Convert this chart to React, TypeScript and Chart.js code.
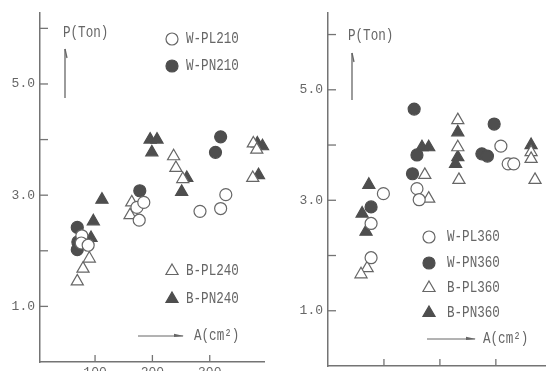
import React, { useEffect, useRef } from 'react';
import { Chart, registerables } from 'chart.js';
Chart.register(...registerables);

// ---- axis ticks ----
const xTickValues = [100, 200, 300];
const yTickValues = [1, 2, 3, 4, 5, 6];
const yLabelValues = [1, 3, 5];

// ---- left panel (210 / 240) ----
const wpl210X = [77, 76, 88, 173, 185, 177, 283, 319, 328];
const wpl210Y = [2.27, 2.14, 2.1, 2.78, 2.87, 2.55, 2.71, 2.76, 3.01];
const wpn210X = [69, 70, 69, 178, 310, 319];
const wpn210Y = [2.42, 2.16, 2.02, 3.08, 3.77, 4.05];
const bpl240X = [69, 79, 90, 161, 164, 237, 241, 253, 375, 376, 382];
const bpl240Y = [1.45, 1.68, 1.86, 2.64, 2.87, 3.7, 3.49, 3.29, 3.31, 3.93, 3.82];
const bpn240X = [93, 97, 112, 196, 208, 199, 251, 260, 385, 383, 392];
const bpn240Y = [2.23, 2.53, 2.92, 4.0, 4.0, 3.77, 3.06, 3.31, 3.36, 3.93, 3.88];

// ---- right panel (360) ----
const wpl360X = [99, 77, 77, 159, 163, 309, 322, 332];
const wpl360Y = [3.12, 2.58, 1.96, 3.21, 3.01, 3.98, 3.66, 3.66];
const wpn360X = [77, 154, 159, 151, 297, 275, 285];
const wpn360Y = [2.88, 4.65, 3.82, 3.48, 4.38, 3.84, 3.8];
const bpl360X = [70, 59, 173, 180, 232, 232, 234, 363, 363, 370];
const bpl360Y = [1.77, 1.66, 3.46, 3.03, 4.45, 3.96, 3.37, 3.87, 3.75, 3.37];
const bpn360X = [73, 61, 68, 168, 180, 232, 232, 228, 363];
const bpn360Y = [3.28, 2.76, 2.43, 3.96, 3.96, 4.23, 3.78, 3.66, 4.0];

const INK = '#666666';
const FILL = '#4e4e4e';
const AXIS = '#747474';
const FONT = '"Liberation Mono", "DejaVu Sans Mono", monospace';

function series(label: string, xs: number[], ys: number[], filled: boolean, triangle: boolean) {
  return {
    label,
    data: xs.map((x, i) => ({ x, y: ys[i] })),
    pointStyle: triangle ? 'triangle' : 'circle',
    pointRadius: triangle ? 7 : 6,
    pointHoverRadius: triangle ? 7 : 6,
    pointBackgroundColor: filled ? FILL : '#ffffff',
    pointBorderColor: filled ? FILL : INK,
    pointBorderWidth: 1.2,
    showLine: false,
    clip: false,
  };
}

function stretchedText(ctx: CanvasRenderingContext2D, s: string, x: number, y: number) {
  ctx.save();
  ctx.translate(x, y);
  ctx.scale(1, 1.3);
  ctx.font = '12.6px ' + FONT;
  ctx.fillStyle = INK;
  ctx.textAlign = 'left';
  ctx.textBaseline = 'middle';
  ctx.fillText(s, 0, 0);
  ctx.restore();
}

function drawMarker(ctx: CanvasRenderingContext2D, ds: any, x: number, y: number) {
  const r = ds.pointRadius;
  ctx.save();
  ctx.beginPath();
  if (ds.pointStyle === 'triangle') {
    ctx.moveTo(x, y - r);
    ctx.lineTo(x + r * 0.866, y + r * 0.5);
    ctx.lineTo(x - r * 0.866, y + r * 0.5);
    ctx.closePath();
  } else {
    ctx.arc(x, y, r, 0, Math.PI * 2);
  }
  ctx.fillStyle = ds.pointBackgroundColor;
  ctx.strokeStyle = ds.pointBorderColor;
  ctx.lineWidth = ds.pointBorderWidth;
  ctx.fill();
  ctx.stroke();
  ctx.restore();
}

const panelPlugin = {
  id: 'panel',
  afterDraw(chart: any, _args: any, opts: any) {
    const ctx: CanvasRenderingContext2D = chart.ctx;
    const { left, bottom } = chart.chartArea;
    const xs = chart.scales.x;
    const ys = chart.scales.y;
    ctx.save();
    ctx.strokeStyle = AXIS;
    ctx.lineWidth = 1.3;
    const line = (x1: number, y1: number, x2: number, y2: number) => {
      ctx.beginPath();
      ctx.moveTo(x1, y1);
      ctx.lineTo(x2, y2);
      ctx.stroke();
    };
    // inward tick marks
    xTickValues.forEach((v) => {
      const px = xs.getPixelForValue(v);
      line(px, bottom, px, bottom - 7);
    });
    yTickValues.forEach((v) => {
      const py = ys.getPixelForValue(v);
      line(left, py, left + 8, py);
    });
    // P(Ton) label and vertical arrow
    stretchedText(ctx, 'P(Ton)', opts.p.x, opts.p.y);
    ctx.strokeStyle = INK;
    line(opts.p.ax, opts.p.a1, opts.p.ax, opts.p.a2);
    line(opts.p.ax, opts.p.a1, opts.p.ax + 2, opts.p.a1 + 9);
    // legend items
    opts.legend.forEach((item: any) => {
      const ds = chart.data.datasets[item.ds];
      drawMarker(ctx, ds, item.x, item.y);
      stretchedText(ctx, ds.label, item.tx, item.y);
    });
    // A(cm²) arrow
    const a = opts.a;
    ctx.strokeStyle = INK;
    ctx.lineWidth = 1;
    line(a.x1, a.y, a.x2, a.y);
    ctx.fillStyle = INK;
    ctx.beginPath();
    ctx.moveTo(a.x2 + 1, a.y);
    ctx.lineTo(a.x2 - 9, a.y - 2.2);
    ctx.lineTo(a.x2 - 9, a.y + 1);
    ctx.closePath();
    ctx.fill();
    stretchedText(ctx, 'A(cm²)', a.tx, a.y);
    ctx.restore();
  },
};

function makeConfig(datasets: any[], xMin: number, xMax: number, yMax: number, pad: any, panelOpts: any) {
  return {
    type: 'scatter',
    data: { datasets },
    options: {
      animation: false,
      responsive: false,
      maintainAspectRatio: false,
      layout: { padding: pad },
      plugins: {
        legend: { display: false },
        tooltip: { enabled: false },
        panel: panelOpts,
      },
      scales: {
        x: {
          type: 'linear',
          min: xMin,
          max: xMax,
          afterFit: (s: any) => { s.height = 28; },
          afterBuildTicks: (s: any) => { s.ticks = xTickValues.map((v) => ({ value: v })); },
          grid: { display: false, drawTicks: false },
          border: { display: true, color: AXIS, width: 1.5 },
          ticks: {
            padding: 3,
            color: INK,
            font: { family: FONT, size: 13 },
            maxRotation: 0,
            autoSkip: false,
            callback: (v: any) => String(v),
          },
        },
        y: {
          type: 'linear',
          min: 0,
          max: yMax,
          afterFit: (s: any) => { s.width = 40; },
          afterBuildTicks: (s: any) => { s.ticks = yTickValues.map((v) => ({ value: v })); },
          grid: { display: false, drawTicks: false },
          border: { display: true, color: AXIS, width: 1.5 },
          ticks: {
            padding: 5,
            color: INK,
            font: { family: FONT, size: 13 },
            autoSkip: false,
            callback: (v: any) => (yLabelValues.includes(Number(v)) ? Number(v).toFixed(1) : ''),
          },
        },
      },
    },
    plugins: [panelPlugin],
  } as any;
}

export default function App() {
  const leftRef = useRef<HTMLCanvasElement>(null);
  const rightRef = useRef<HTMLCanvasElement>(null);

  useEffect(() => {
    const leftSets = [
      series('W-PL210', wpl210X, wpl210Y, false, false),
      series('W-PN210', wpn210X, wpn210Y, true, false),
      series('B-PL240', bpl240X, bpl240Y, false, true),
      series('B-PN240', bpn240X, bpn240Y, true, true),
    ];
    const rightSets = [
      series('W-PL360', wpl360X, wpl360Y, false, false),
      series('W-PN360', wpn360X, wpn360Y, true, false),
      series('B-PL360', bpl360X, bpl360Y, false, true),
      series('B-PN360', bpn360X, bpn360Y, true, true),
    ];
    const left = new Chart(
      leftRef.current as HTMLCanvasElement,
      makeConfig(leftSets, 4, 396, 6.28, { top: 12, right: 8, left: 0, bottom: 0 }, {
        p: { x: 63, y: 33, ax: 65, a1: 49, a2: 98 },
        legend: [
          { ds: 0, x: 172, y: 39, tx: 186 },
          { ds: 1, x: 172, y: 66, tx: 186 },
          { ds: 2, x: 172, y: 271, tx: 186 },
          { ds: 3, x: 172, y: 299, tx: 186 },
        ],
        a: { x1: 138, x2: 183, y: 336, tx: 194 },
      })
    );
    const right = new Chart(
      rightRef.current as HTMLCanvasElement,
      makeConfig(rightSets, 0, 400, 6.39, { top: 13, right: 0, left: 0, bottom: 0 }, {
        p: { x: 60, y: 36, ax: 64, a1: 53, a2: 100 },
        legend: [
          { ds: 0, x: 141, y: 237, tx: 159 },
          { ds: 1, x: 141, y: 263, tx: 159 },
          { ds: 2, x: 141, y: 288, tx: 159 },
          { ds: 3, x: 141, y: 313, tx: 159 },
        ],
        a: { x1: 139, x2: 187, y: 339, tx: 195 },
      })
    );
    return () => {
      left.destroy();
      right.destroy();
    };
  }, []);

  return (
    <div
      style={{
        position: 'fixed',
        left: 0,
        top: 0,
        width: 546,
        height: 371,
        overflow: 'hidden',
        background: '#ffffff',
      }}
    >
      <canvas ref={leftRef} width={273} height={390} style={{ position: 'absolute', left: 0, top: 0, width: 273, height: 390 }} />
      <canvas ref={rightRef} width={272} height={394} style={{ position: 'absolute', left: 288, top: 0, width: 272, height: 394 }} />
    </div>
  );
}
